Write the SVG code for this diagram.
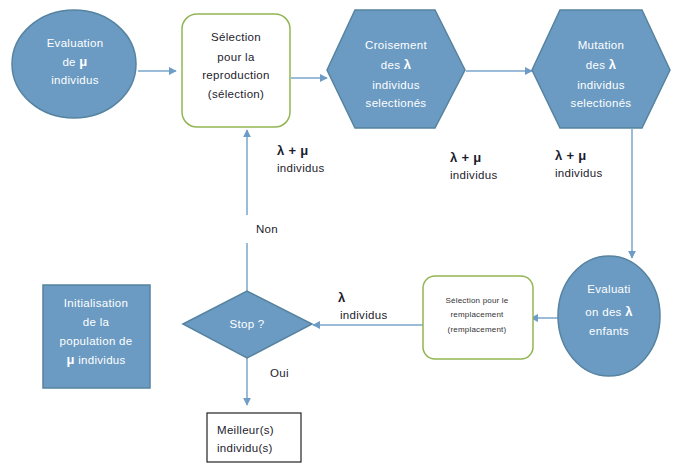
<svg xmlns="http://www.w3.org/2000/svg" width="676" height="463" viewBox="0 0 676 463">
<defs>
<marker id="ah" viewBox="0 0 10 10" refX="9" refY="5" markerWidth="8" markerHeight="8" markerUnits="userSpaceOnUse" orient="auto">
<path d="M0,0 L10,5 L0,10 z" fill="#6f9cc6"/>
</marker>
<style>
.blue{fill:#6b9bc3;stroke:#56839f;stroke-width:1.5}
.green{fill:#fff;stroke:#92b553;stroke-width:1.5}
.w{font-family:"Liberation Sans",Arial,sans-serif;font-size:11.5px;fill:#fff;text-anchor:middle;letter-spacing:0.3px}
.k{font-family:"Liberation Sans",Arial,sans-serif;font-size:11.5px;fill:#1c1c2e;letter-spacing:0.3px}
.kc{font-family:"Liberation Sans",Arial,sans-serif;font-size:11.5px;fill:#1c1c2e;text-anchor:middle;letter-spacing:0.3px}
.s{font-family:"Liberation Sans",Arial,sans-serif;font-size:8px;fill:#333;text-anchor:middle;letter-spacing:0.2px}
.b{font-weight:bold;font-size:13px}
.c{stroke:#7aa6cc;stroke-width:1.5;fill:none;marker-end:url(#ah)}
</style>
</defs>
<rect width="676" height="463" fill="#fff"/>
<g id="connectors">
<line class="c" x1="138" y1="71" x2="176" y2="71"/>
<line class="c" x1="291" y1="78" x2="327" y2="78"/>
<line class="c" x1="466" y1="71" x2="532" y2="71"/>
<polyline class="c" points="632,129 632,258"/>
<line class="c" x1="558" y1="318" x2="531" y2="318"/>
<line class="c" x1="423" y1="325" x2="313" y2="325"/>
<line class="c" x1="247" y1="291" x2="247" y2="130"/>
<line class="c" x1="247" y1="358" x2="247" y2="405"/>
<rect x="244" y="215" width="8" height="28" fill="#fff"/>
<text class="k" x="256" y="233">Non</text>
<text class="k" x="270" y="377">Oui</text>
<text class="k b" x="277" y="155">λ + μ</text>
<text class="k" x="277" y="172">individus</text>
<text class="k b" x="450" y="162">λ + μ</text>
<text class="k" x="450" y="179">individus</text>
<text class="k b" x="555" y="160">λ + μ</text>
<text class="k" x="555" y="177">individus</text>
<text class="k b" x="338" y="302">λ</text>
<text class="k" x="340" y="319">individus</text>
</g>
<g id="eval-mu">
<ellipse class="blue" cx="74" cy="64" rx="62" ry="54"/>
<text class="w" x="75" y="47">Evaluation</text>
<text class="w" x="75" y="66">de <tspan font-weight="bold" font-size="13px">μ</tspan></text>
<text class="w" x="75" y="84">individus</text>
</g>
<g id="selection-repro">
<rect class="green" x="182" y="14" width="108" height="113" rx="15"/>
<text class="kc" x="236" y="41">Sélection</text>
<text class="kc" x="236" y="61">pour la</text>
<text class="kc" x="236" y="79">reproduction</text>
<text class="kc" x="236" y="98">(sélection)</text>
</g>
<g id="croisement">
<polygon class="blue" points="327,70 355,10 435,10 465,70 435,128 355,128"/>
<text class="w" x="396" y="49">Croisement</text>
<text class="w" x="396" y="69">des <tspan font-weight="bold" font-size="13px">λ</tspan></text>
<text class="w" x="396" y="89">individus</text>
<text class="w" x="396" y="107">selectionés</text>
</g>
<g id="mutation">
<polygon class="blue" points="532,70 560,10 642,10 670,70 642,128 560,128"/>
<text class="w" x="601" y="49">Mutation</text>
<text class="w" x="601" y="69">des <tspan font-weight="bold" font-size="13px">λ</tspan></text>
<text class="w" x="601" y="89">individus</text>
<text class="w" x="601" y="107">selectionés</text>
</g>
<g id="eval-lambda">
<ellipse class="blue" cx="609" cy="316" rx="51" ry="60"/>
<text class="w" x="609" y="293">Evaluati</text>
<text class="w" x="609" y="316">on des <tspan font-weight="bold" font-size="13px">λ</tspan></text>
<text class="w" x="609" y="335">enfants</text>
</g>
<g id="selection-remplacement">
<rect class="green" x="423" y="276" width="110" height="83" rx="12"/>
<text class="s" x="477" y="303">Sélection pour le</text>
<text class="s" x="477" y="317">remplacement</text>
<text class="s" x="477" y="332">(remplacement)</text>
</g>
<g id="stop">
<polygon class="blue" points="183,324 247,291 312,324 247,358"/>
<text class="w" x="247" y="328">Stop ?</text>
</g>
<g id="meilleur">
<rect x="207" y="413" width="94" height="49" fill="#fff" stroke="#222" stroke-width="1.2"/>
<text class="k" x="217" y="434">Meilleur(s)</text>
<text class="k" x="217" y="452">individu(s)</text>
</g>
<g id="initialisation">
<rect class="blue" x="43" y="285" width="107" height="103" stroke-width="1"/>
<text class="w" x="96" y="307">Initialisation</text>
<text class="w" x="96" y="326">de la</text>
<text class="w" x="96" y="345">population de</text>
<text class="w" x="96" y="364"><tspan font-weight="bold" font-size="13px">μ</tspan> individus</text>
</g>
</svg>
